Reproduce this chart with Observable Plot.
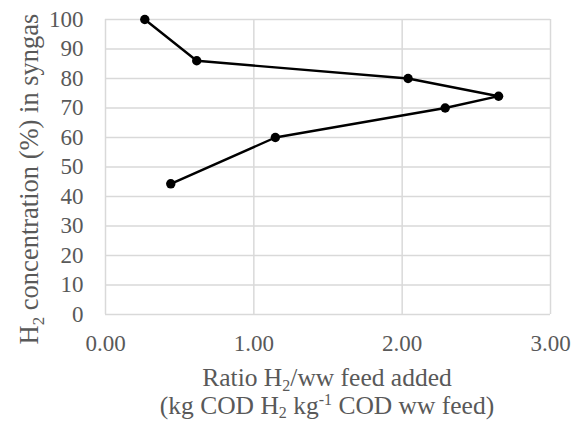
<!DOCTYPE html>
<html><head><meta charset="utf-8">
<script src="https://cdn.jsdelivr.net/npm/d3@7"></script>
<script src="https://cdn.jsdelivr.net/npm/@observablehq/plot@0.6"></script>
<style>
body{margin:0;background:#fff}
svg text{font-family:"Liberation Serif","Times New Roman",serif !important}
</style>
</head><body><div id="chart"></div>
<script>
const ratio = [0.265, 0.615, 2.04, 2.65, 2.29, 1.145, 0.44];
const h2 = [100, 86, 80, 74, 70, 60, 44.3];
const xTicks = [0, 1, 2, 3];
const yTicks = [0, 10, 20, 30, 40, 50, 60, 70, 80, 90, 100];
const data = ratio.map((r, i) => ({r, h: h2[i]}));
const grey = "#595959";
const font = "Liberation Serif";
const plot = Plot.plot({
  width: 580, height: 423,
  marginLeft: 105, marginRight: 30, marginTop: 19, marginBottom: 109,
  style: {background: "#fff", fontFamily: font},
  x: {domain: [0, 3], axis: null},
  y: {domain: [0, 100], axis: null},
  marks: [
    Plot.gridY(yTicks, {stroke: "#d9d9d9", strokeOpacity: 1, strokeWidth: 1.5}),
    Plot.gridX(xTicks, {stroke: "#d9d9d9", strokeOpacity: 1, strokeWidth: 1.5}),
    Plot.text(xTicks, {x: d => d, y: 0, dy: 29, text: d => d.toFixed(2), fill: grey, fontFamily: font, fontSize: 23}),
    Plot.text(yTicks, {x: 0, y: d => d, dx: -22, textAnchor: "end", text: d => String(d), fill: grey, fontFamily: font, fontSize: 23}),
    Plot.line(data, {x: "r", y: "h", stroke: "black", strokeWidth: 2.4}),
    Plot.dot(data, {x: "r", y: "h", r: 4.7, fill: "black"})
  ]
});
document.getElementById("chart").appendChild(plot);
const svg = d3.select(plot);
const fs = 25.5, sub = 16;
function title(sel) {
  return sel.append("text").attr("text-anchor", "middle")
    .attr("font-family", font).attr("font-size", fs).attr("fill", grey);
}
const t1 = title(svg).attr("x", 327).attr("y", 386);
t1.append("tspan").text("Ratio H");
t1.append("tspan").attr("font-size", sub).attr("dy", 5).text("2");
t1.append("tspan").attr("dy", -5).text("/ww feed added");
const t2 = title(svg).attr("x", 327).attr("y", 414);
t2.append("tspan").text("(kg COD H");
t2.append("tspan").attr("font-size", sub).attr("dy", 4).text("2");
t2.append("tspan").attr("dy", -4).text(" kg");
t2.append("tspan").attr("font-size", sub).attr("dy", -9).text("-1");
t2.append("tspan").attr("dy", 9).text(" COD ww feed)");
const t3 = title(svg).attr("transform", "translate(38,179) rotate(-90)").attr("font-size", 26.5);
t3.append("tspan").text("H");
t3.append("tspan").attr("font-size", 17).attr("dy", 6).text("2");
t3.append("tspan").attr("dy", -6).text(" concentration (%) in syngas");
</script></body></html>
